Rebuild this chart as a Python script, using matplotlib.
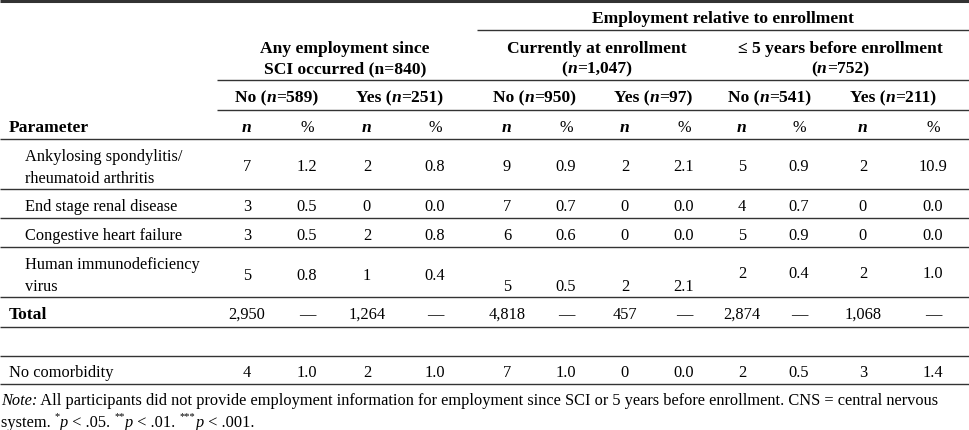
import matplotlib
matplotlib.use("Agg")
import matplotlib.pyplot as plt

plt.rcParams['font.family'] = ['Liberation Serif', 'DejaVu Serif']

# table data
params = ["Ankylosing spondylitis/\nrheumatoid arthritis", "End stage renal disease",
          "Congestive heart failure", "Human immunodeficiency\nvirus"]
any_no_n = [7, 3, 3, 5]
any_no_pct = [1.2, 0.5, 0.5, 0.8]
any_yes_n = [2, 0, 2, 1]
any_yes_pct = [0.8, 0.0, 0.8, 0.4]
cur_no_n = [9, 7, 6, 5]
cur_no_pct = [0.9, 0.7, 0.6, 0.5]
cur_yes_n = [2, 0, 0, 2]
cur_yes_pct = [2.1, 0.0, 0.0, 2.1]
pre_no_n = [5, 4, 5, 2]
pre_no_pct = [0.9, 0.7, 0.9, 0.4]
pre_yes_n = [2, 0, 0, 2]
pre_yes_pct = [10.9, 0.0, 0.0, 1.0]
totals = [2950, 1264, 4818, 457, 2874, 1068]
nocomorb_n = [4, 2, 7, 0, 2, 3]
nocomorb_pct = [1.0, 1.0, 1.0, 0.0, 0.5, 1.4]
sub_n = [589, 251, 950, 97, 541, 211]

W, H = 969, 431
fig = plt.figure(figsize=(W / 100, H / 100), dpi=100)
ax = fig.add_axes([0, 0, 1, 1])
ax.set_xlim(0, W)
ax.set_ylim(H, 0)
ax.axis("off")
renderer = fig.canvas.get_renderer()

FS = 11.8     # body text
BFS = 12.6    # bold header text
LC = "#333333"


def rich(x, y, parts, ha="center", size=FS):
    # parts: (text, weight, style[, size, dy]) drawn side by side
    texts = []
    for p in parts:
        s, w, st = p[:3]
        sz = p[3] if len(p) > 3 else size
        dy = p[4] if len(p) > 4 else 0
        t = ax.text(0, y + dy, s, fontweight=w, fontstyle=st, fontsize=sz,
                    va="center_baseline", ha="left")
        texts.append(t)
    widths = [t.get_window_extent(renderer).width for t in texts]
    total = sum(widths)
    x0 = x - total / 2 if ha == "center" else x
    for t, w in zip(texts, widths):
        t.set_x(x0)
        x0 += w
    return texts


def hline(y, x0=0, x1=W, lw=1.0):
    ax.plot([x0, x1], [y, y], color=LC, lw=lw, solid_capstyle="butt")


# rules
hline(1.5, lw=2.2)
hline(31, 477)
hline(80.5, 217)
hline(110.5, 217)
hline(140)
for y in [190, 219, 248, 298, 328, 357, 385]:
    hline(y)

# header
B = BFS
rich(723, 17, [("Employment relative to enrollment", "bold", "normal")], size=B)
rich(345, 47, [("Any employment since", "bold", "normal")], size=B)
rich(345, 67, [("SCI occurred (n=840)", "bold", "normal")], size=B)
rich(597, 47, [("Currently at enrollment", "bold", "normal")], size=B)
rich(597, 67, [("(", "bold", "normal"), ("n", "bold", "italic"), ("=1,047)", "bold", "normal")], size=B)
rich(840, 47, [("\u2264 5 years before enrollment", "bold", "normal")], size=B)
rich(840, 67, [("(", "bold", "normal"), ("n", "bold", "italic"), ("=752)", "bold", "normal")], size=B)

sub_x = [277, 400, 535, 653, 770, 893]
for i, (sx, nn) in enumerate(zip(sub_x, sub_n)):
    lab = "No (" if i % 2 == 0 else "Yes ("
    rich(sx, 96, [(lab, "bold", "normal"), ("n", "bold", "italic"), ("=%d)" % nn, "bold", "normal")], size=B)

col_x = [247, 307, 367, 435, 507, 566, 625, 684, 742, 799, 863, 933]
rich(9, 126, [("Parameter", "bold", "normal")], ha="left", size=B)
for j, cx in enumerate(col_x):
    if j % 2 == 0:
        rich(cx, 126, [("n", "bold", "italic")], size=B)
    else:
        rich(cx, 126, [("%", "normal", "normal")], size=FS)

# body rows
label_y = [(155, 177), (205,), (234,), (263, 285)]
num_y = [[165, 165, 165], [205, 205, 205], [234, 234, 234], [274, 285, 272]]
cols = [any_no_n, any_no_pct, any_yes_n, any_yes_pct,
        cur_no_n, cur_no_pct, cur_yes_n, cur_yes_pct,
        pre_no_n, pre_no_pct, pre_yes_n, pre_yes_pct]
for r, p in enumerate(params):
    for line, ly in zip(p.split("\n"), label_y[r]):
        ax.text(25, ly, line, fontsize=FS, va="center_baseline", ha="left")
    for j, cx in enumerate(col_x):
        v = cols[j][r]
        s = "%d" % v if j % 2 == 0 else "%.1f" % v
        ax.text(cx, num_y[r][j // 4], s, fontsize=FS, va="center_baseline", ha="center")

# total row
ax.text(9, 313, "Total", fontsize=B, fontweight="bold", va="center_baseline", ha="left")
for k, tv in enumerate(totals):
    ax.text(col_x[2 * k], 313, "{:,}".format(tv), fontsize=FS, va="center_baseline", ha="center")
    ax.text(col_x[2 * k + 1], 313, "\u2014", fontsize=FS, va="center_baseline", ha="center")

# no comorbidity row
ax.text(9, 371, "No comorbidity", fontsize=FS, va="center_baseline", ha="left")
for k in range(6):
    ax.text(col_x[2 * k], 371, "%d" % nocomorb_n[k], fontsize=FS, va="center_baseline", ha="center")
    ax.text(col_x[2 * k + 1], 371, "%.1f" % nocomorb_pct[k], fontsize=FS, va="center_baseline", ha="center")

# note
NF = 11.8
rich(1, 399, [("Note:", "normal", "italic"),
              (" All participants did not provide employment information for employment since SCI or 5 years before enrollment. CNS = central nervous",
               "normal", "normal")], ha="left", size=NF)
sup = ("normal", "normal", 7.5, -5)
rich(1, 421, [("system. ", "normal", "normal"), ("*",) + sup, ("p", "normal", "italic"),
              (" < .05. ", "normal", "normal"), ("**",) + sup, ("p", "normal", "italic"),
              (" < .01. ", "normal", "normal"), ("***",) + sup, ("p", "normal", "italic"),
              (" < .001.", "normal", "normal")], ha="left", size=NF)

fig.savefig("out.png", dpi=100)
